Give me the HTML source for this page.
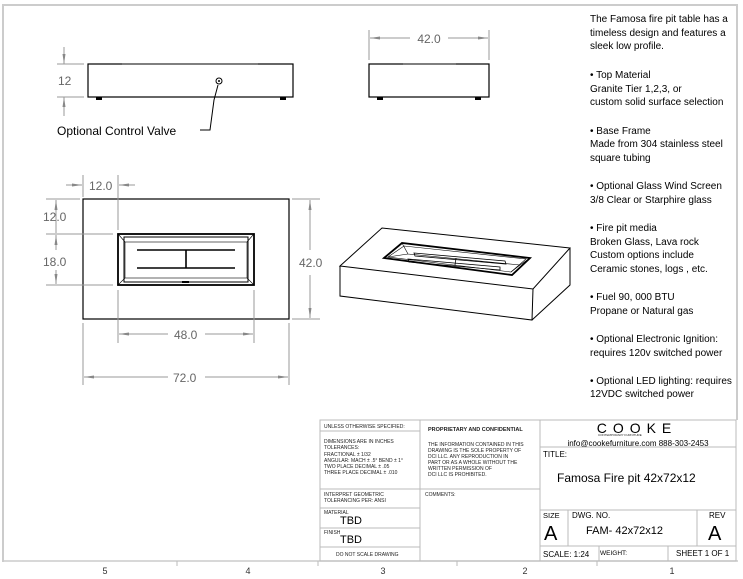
<!DOCTYPE html>
<html><head><meta charset="utf-8"><style>
html,body{margin:0;padding:0;background:#fff;}
svg{display:block;}
text{font-family:"Liberation Sans",sans-serif;}
</style></head><body>
<svg width="743" height="579" viewBox="0 0 743 579" xmlns="http://www.w3.org/2000/svg">
<defs>
<marker id="a" viewBox="0 0 10 6" refX="10" refY="3" markerWidth="10" markerHeight="6" orient="auto-start-reverse" markerUnits="userSpaceOnUse"><path d="M0,1.5 L10,3 L0,4.5z" fill="#888"/></marker>
</defs>
<path d="M3,562 L3,5 L738,5" fill="none" stroke="#ccc" stroke-width="2"/>
<line x1="3" y1="561" x2="738" y2="561" stroke="#ccc" stroke-width="1.5"/>
<line x1="737" y1="5" x2="737" y2="420" stroke="#ccc" stroke-width="2"/>
<g stroke="#bbb"><line x1="177" y1="561" x2="177" y2="566"/><line x1="318" y1="561" x2="318" y2="566"/><line x1="457" y1="561" x2="457" y2="566"/><line x1="597" y1="561" x2="597" y2="566"/></g>
<g font-size="9" fill="#333" text-anchor="middle"><text x="105" y="574">5</text><text x="248" y="574">4</text><text x="383" y="574">3</text><text x="525" y="574">2</text><text x="672" y="574">1</text></g>

<rect x="88" y="64" width="205" height="33" fill="none" stroke="#000" stroke-width="1.2"/>
<line x1="122" y1="64" x2="258" y2="64" stroke="#666" stroke-width="1.5"/>
<rect x="96" y="97" width="6" height="3" fill="#000"/><rect x="280" y="97" width="6" height="3" fill="#000"/>
<circle cx="219" cy="81" r="3" fill="none" stroke="#000"/><circle cx="219" cy="81" r="1" fill="#000"/>
<path d="M218,85 L214,100 L210,130 L200,130" fill="none" stroke="#000"/>
<text x="57" y="135" font-size="12" fill="#000">Optional Control Valve</text>
<g stroke="#999" fill="none">
<line x1="57" y1="64" x2="84" y2="64"/><line x1="57" y1="97" x2="84" y2="97"/>
<line x1="64" y1="47" x2="64" y2="64" marker-end="url(#a)"/><line x1="64" y1="116" x2="64" y2="97" marker-end="url(#a)"/>
</g>
<text x="58" y="85" font-size="12" fill="#666">12</text>

<rect x="369" y="64" width="120" height="33" fill="none" stroke="#000" stroke-width="1.2"/>
<line x1="403" y1="64" x2="456" y2="64" stroke="#666" stroke-width="1.5"/>
<rect x="377" y="97" width="6" height="3" fill="#000"/><rect x="475" y="97" width="6" height="3" fill="#000"/>
<g stroke="#999" fill="none">
<line x1="369" y1="30" x2="369" y2="60"/><line x1="489" y1="30" x2="489" y2="60"/>
<line x1="410" y1="38" x2="370" y2="38" marker-end="url(#a)"/><line x1="448" y1="38" x2="488" y2="38" marker-end="url(#a)"/>
</g>
<text x="429" y="43" font-size="12" fill="#666" text-anchor="middle">42.0</text>

<rect x="83" y="199" width="206" height="120" fill="none" stroke="#000" stroke-width="1.2"/>
<rect x="118" y="234" width="136" height="51" fill="none" stroke="#000" stroke-width="1.8"/>
<rect x="124" y="237" width="124" height="45" fill="none" stroke="#000"/>
<rect x="125" y="242" width="122" height="36" fill="none" stroke="#000" stroke-width=".6"/>
<path d="M119,235 L125,242 M253,235 L247,242 M119,284 L125,278 M253,284 L247,278" stroke="#000" stroke-width=".6"/>
<g stroke="#000" stroke-width="1.6"><line x1="137" y1="250" x2="235" y2="250"/><line x1="137" y1="268" x2="235" y2="268"/><line x1="186" y1="250" x2="186" y2="268"/></g>
<rect x="182" y="281" width="7" height="2" fill="#000"/>
<g stroke="#999" fill="none">
<line x1="83" y1="175" x2="83" y2="197"/><line x1="118" y1="175" x2="118" y2="230"/>
<line x1="66" y1="185" x2="82" y2="185" marker-end="url(#a)"/><line x1="135" y1="185" x2="119" y2="185" marker-end="url(#a)"/>
<line x1="46" y1="199" x2="80" y2="199"/><line x1="46" y1="234" x2="113" y2="234"/><line x1="46" y1="285" x2="113" y2="285"/>
<line x1="56" y1="200" x2="56" y2="233"/><line x1="56" y1="218" x2="56" y2="200" marker-end="url(#a)"/>
<line x1="56" y1="250" x2="56" y2="235" marker-end="url(#a)"/><line x1="56" y1="270" x2="56" y2="284" marker-end="url(#a)"/>
<line x1="292" y1="199" x2="320" y2="199"/><line x1="292" y1="319" x2="320" y2="319"/>
<line x1="310" y1="250" x2="310" y2="200" marker-end="url(#a)"/><line x1="310" y1="275" x2="310" y2="318" marker-end="url(#a)"/>
<line x1="118" y1="290" x2="118" y2="343"/><line x1="254" y1="290" x2="254" y2="343"/>
<line x1="168" y1="334" x2="119" y2="334" marker-end="url(#a)"/><line x1="205" y1="334" x2="253" y2="334" marker-end="url(#a)"/>
<line x1="83" y1="323" x2="83" y2="385"/><line x1="289" y1="323" x2="289" y2="385"/>
<line x1="168" y1="377" x2="84" y2="377" marker-end="url(#a)"/><line x1="205" y1="377" x2="288" y2="377" marker-end="url(#a)"/>
</g>
<g font-size="12" fill="#666">
<text x="89" y="190">12.0</text><text x="43" y="221">12.0</text><text x="43" y="266">18.0</text>
<text x="299" y="267">42.0</text><text x="174" y="339">48.0</text><text x="173" y="382">72.0</text>
</g>

<g fill="none" stroke="#000" stroke-width="1">
<path d="M340,266 L382,228 L570,248 L533,289 Z"/>
<path d="M340,266 L340,296 L532,320 L533,289"/>
<path d="M532,320 L570,285 L570,248"/>
<path d="M384,258 L402,243 L530,258 L512,275 Z" stroke-width="1.8"/>
<path d="M388,257 L404,246 L526,259 L511,272 Z" stroke-width=".6"/>
<path d="M402,243 L408,254 L520,265 L530,258 M408,254 L388,257 M520,265 L511,272" stroke-width=".6"/>
<path d="M414,253 L505,261 L506,264 L415,256 Z M408,259 L500,267 L500,270 L409,262 Z M456,258 L455,265" stroke-width=".8"/>
</g>

<g font-size="10" fill="#000">
<text x="590" y="22">The Famosa fire pit table has a</text>
<text x="590" y="36">timeless design and features a</text>
<text x="590" y="49">sleek low profile.</text>
<text x="590" y="78">• Top Material</text>
<text x="590" y="92">Granite Tier 1,2,3, or</text>
<text x="590" y="105">custom solid surface selection</text>
<text x="590" y="134">• Base  Frame</text>
<text x="590" y="147">Made from 304 stainless steel</text>
<text x="590" y="161">square  tubing</text>
<text x="590" y="189">• Optional Glass Wind Screen</text>
<text x="590" y="203">3/8 Clear or Starphire glass</text>
<text x="590" y="231">• Fire pit media</text>
<text x="590" y="245">Broken Glass, Lava rock</text>
<text x="590" y="258">Custom options include</text>
<text x="590" y="272">Ceramic stones, logs , etc.</text>
<text x="590" y="300">• Fuel  90, 000 BTU</text>
<text x="590" y="314">Propane or Natural gas</text>
<text x="590" y="342">• Optional Electronic Ignition:</text>
<text x="590" y="356">requires 120v switched power</text>
<text x="590" y="384">• Optional LED lighting: requires</text>
<text x="590" y="397">12VDC switched power</text>
</g>

<g fill="none" stroke="#bbb" stroke-width="1">
<rect x="320" y="420" width="416" height="141"/>
<line x1="420" y1="420" x2="420" y2="561"/><line x1="540" y1="420" x2="540" y2="561"/>
<line x1="320" y1="431" x2="420" y2="431"/><line x1="320" y1="489" x2="540" y2="489"/>
<line x1="320" y1="508" x2="420" y2="508"/><line x1="320" y1="528" x2="420" y2="528"/><line x1="320" y1="547" x2="420" y2="547"/>
<line x1="540" y1="447" x2="736" y2="447"/><line x1="540" y1="510" x2="736" y2="510"/><line x1="540" y1="546" x2="736" y2="546"/>
<line x1="568" y1="510" x2="568" y2="546"/><line x1="697" y1="510" x2="697" y2="546"/>
<line x1="599" y1="546" x2="599" y2="561"/><line x1="668" y1="546" x2="668" y2="561"/>
</g>
<g font-size="5" fill="#222">
<text x="324" y="428">UNLESS OTHERWISE SPECIFIED:</text>
<text x="324" y="443">DIMENSIONS ARE IN INCHES</text>
<text x="324" y="449">TOLERANCES:</text>
<text x="324" y="456">FRACTIONAL ± 1/32</text>
<text x="324" y="462">ANGULAR: MACH ± .5° BEND ± 1°</text>
<text x="324" y="468">TWO PLACE DECIMAL   ± .05</text>
<text x="324" y="474">THREE PLACE DECIMAL  ± .010</text>
<text x="324" y="496">INTERPRET GEOMETRIC</text>
<text x="324" y="502">TOLERANCING PER: ANSI</text>
<text x="324" y="514">MATERIAL</text>
<text x="324" y="534">FINISH</text>
<text x="336" y="556">DO NOT SCALE DRAWING</text>
<text x="428" y="431" font-size="5.5" font-weight="bold">PROPRIETARY AND CONFIDENTIAL</text>
<text x="428" y="446">THE INFORMATION CONTAINED IN THIS</text>
<text x="428" y="452">DRAWING IS THE SOLE PROPERTY OF</text>
<text x="428" y="458">DCI LLC.  ANY REPRODUCTION IN</text>
<text x="428" y="464">PART OR AS A WHOLE WITHOUT THE</text>
<text x="428" y="470">WRITTEN PERMISSION OF</text>
<text x="428" y="476">DCI LLC IS PROHIBITED.</text>
<text x="425" y="496">COMMENTS:</text>
<text x="598" y="436" font-size="3">CONTEMPORARY FURNITURE</text>
</g>
<text x="340" y="524" font-size="11" fill="#000">TBD</text>
<text x="340" y="543" font-size="11" fill="#000">TBD</text>
<text x="637" y="433" font-size="14" fill="#000" text-anchor="middle" letter-spacing="6">COOKE</text>
<text x="638" y="446" font-size="8" fill="#000" text-anchor="middle">info@cookefurniture.com 888-303-2453</text>
<text x="543" y="457" font-size="8" fill="#000">TITLE:</text>
<text x="557" y="482" font-size="12" fill="#000">Famosa Fire pit  42x72x12</text>
<text x="543" y="518" font-size="7.5" fill="#000">SIZE</text>
<text x="544" y="540" font-size="20" fill="#000">A</text>
<text x="572" y="518" font-size="8" fill="#000">DWG.  NO.</text>
<text x="586" y="534" font-size="11" fill="#000">FAM- 42x72x12</text>
<text x="709" y="518" font-size="8" fill="#000">REV</text>
<text x="708" y="540" font-size="20" fill="#000">A</text>
<text x="543" y="557" font-size="8" fill="#000">SCALE: 1:24</text>
<text x="600" y="555" font-size="6.5" fill="#000">WEIGHT:</text>
<text x="676" y="556" font-size="8" fill="#000">SHEET 1 OF 1</text>
</svg>
</body></html>
